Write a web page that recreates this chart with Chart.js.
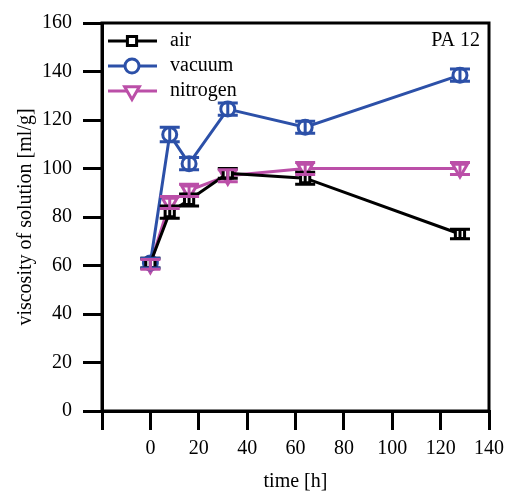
<!DOCTYPE html>
<html>
<head>
<meta charset="utf-8">
<script src="https://cdn.jsdelivr.net/npm/chart.js@4"></script>
<style>
  html, body { margin: 0; padding: 0; background: #fff; }
  #wrap { width: 511px; height: 491px; }
</style>
</head>
<body>
<div id="wrap"><canvas id="viscosity-chart" width="511" height="491"></canvas></div>
<script>
const timeHours = [0, 8, 16, 32, 64, 128];
const airValues = [61, 82, 87, 98, 96, 73];
const airErrors = [2, 2.5, 2.5, 2, 2.5, 2];
const vacuumValues = [61, 114, 102, 124.5, 117, 138.5];
const vacuumErrors = [2, 3, 2.5, 2.5, 2.5, 2.5];
const nitrogenValues = [60.5, 86, 91, 97, 100, 100];
const nitrogenErrors = [2, 2.5, 2.5, 2.5, 2.5, 2.5];
const xTicks = [-20, 0, 20, 40, 60, 80, 100, 120, 140];
const yTicks = [0, 20, 40, 60, 80, 100, 120, 140, 160];

const serif = "'Liberation Serif', 'DejaVu Serif', serif";

function toPoints(xs, ys, errs) {
  return xs.map((x, i) => ({ x: x, y: ys[i], err: errs[i] }));
}

const seriesStyle = (color, style, rotation) => ({
  borderColor: color,
  backgroundColor: "#fff",
  pointBorderColor: color,
  pointBackgroundColor: "#fff",
  pointStyle: style,
  pointRotation: rotation,
  pointRadius: 7,
  pointBorderWidth: 3,
  borderWidth: 3,
  tension: 0,
  fill: false,
});

const datasets = [
  { label: "air", data: toPoints(timeHours, airValues, airErrors), ...seriesStyle("#000000", "rect", 0), pointRadius: 6.5 },
  { label: "vacuum", data: toPoints(timeHours, vacuumValues, vacuumErrors), ...seriesStyle("#2c50a8", "circle", 0) },
  { label: "nitrogen", data: toPoints(timeHours, nitrogenValues, nitrogenErrors), ...seriesStyle("#bb4fa8", "triangle", 180), pointRadius: 8.5 },
];

// error bars with caps
const errorBars = {
  id: "errorBars",
  afterDatasetsDraw(chart) {
    const ctx = chart.ctx;
    const ys = chart.scales.y;
    chart.data.datasets.forEach((ds, di) => {
      const meta = chart.getDatasetMeta(di);
      ctx.save();
      ctx.strokeStyle = ds.borderColor;
      ctx.lineWidth = 3;
      meta.data.forEach((pt, i) => {
        const d = ds.data[i];
        const top = ys.getPixelForValue(d.y + d.err);
        const bot = ys.getPixelForValue(d.y - d.err);
        ctx.beginPath();
        ctx.moveTo(pt.x, top); ctx.lineTo(pt.x, bot);
        ctx.moveTo(pt.x - 10, top); ctx.lineTo(pt.x + 10, top);
        ctx.moveTo(pt.x - 10, bot); ctx.lineTo(pt.x + 10, bot);
        ctx.stroke();
      });
      ctx.restore();
    });
  },
};

// frame, legend, and label inside the plot
const decorations = {
  id: "decorations",
  afterDraw(chart) {
    const ctx = chart.ctx;
    const a = chart.chartArea;
    ctx.save();
    ctx.strokeStyle = "#000";
    ctx.lineWidth = 3;
    ctx.strokeRect(a.left, a.top, a.right - a.left, a.bottom - a.top);

    ctx.font = "20px " + serif;
    ctx.fillStyle = "#000";
    ctx.textBaseline = "middle";
    ctx.textAlign = "right";
    ctx.fillText("PA 12", a.right - 9, a.top + 18);

    ctx.textAlign = "left";
    chart.data.datasets.forEach((ds, i) => {
      const y = a.top + 18 + i * 25;
      const x0 = a.left + 6;
      ctx.strokeStyle = ds.borderColor;
      ctx.lineWidth = 3;
      ctx.beginPath();
      ctx.moveTo(x0, y); ctx.lineTo(x0 + 49, y);
      ctx.stroke();
      ctx.fillStyle = "#fff";
      Chart.helpers.drawPoint(ctx, {
        pointStyle: ds.pointStyle,
        rotation: ds.pointRotation,
        radius: ds.pointRadius,
        borderWidth: ds.pointBorderWidth,
      }, x0 + 24, y);
      ctx.fillStyle = "#000";
      ctx.fillText(ds.label, x0 + 62, y);
    });
    ctx.restore();
  },
};

const config = {
  type: "line",
  data: { datasets: datasets },
  options: {
    responsive: false,
    animation: false,
    layout: { padding: { top: 21, right: 19, left: 0, bottom: 0 } },
    plugins: {
      legend: { display: false },
      tooltip: { enabled: false },
    },
    scales: {
      x: {
        type: "linear",
        min: -20,
        max: 140,
        afterBuildTicks: (scale) => { scale.ticks = xTicks.map((v) => ({ value: v })); },
        afterFit: (scale) => { scale.height = 80; },
        ticks: {
          color: "#000",
          font: { family: serif, size: 20 },
          padding: 7,
          maxRotation: 0,
          callback: (v) => (v < 0 ? "" : v),
        },
        grid: { drawOnChartArea: false, drawTicks: true, tickLength: 19, color: "#000", lineWidth: 3 },
        border: { color: "#000", width: 3 },
        title: { display: true, text: "time [h]", color: "#000", font: { family: serif, size: 20 }, padding: { top: 0, bottom: -3 } },
      },
      y: {
        min: 0,
        max: 160,
        afterBuildTicks: (scale) => { scale.ticks = yTicks.map((v) => ({ value: v })); },
        afterFit: (scale) => { scale.width = 102; },
        ticks: {
          color: "#000",
          font: { family: serif, size: 20 },
          padding: 11,
        },
        grid: { drawOnChartArea: false, drawTicks: true, tickLength: 19, color: "#000", lineWidth: 3 },
        border: { color: "#000", width: 3 },
        title: { display: true, text: "viscosity of solution [ml/g]", color: "#000", font: { family: serif, size: 20 }, padding: { top: 14, bottom: 0 } },
      },
    },
  },
  plugins: [errorBars, decorations],
};

new Chart(document.getElementById("viscosity-chart").getContext("2d"), config);
</script>
</body>
</html>
